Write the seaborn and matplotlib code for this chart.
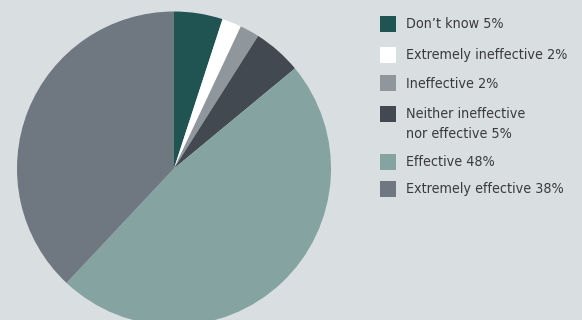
import matplotlib
matplotlib.use("Agg")
import matplotlib.pyplot as plt
import seaborn as sns
from matplotlib.patches import Rectangle

sns.set_theme(style="white")
plt.rcParams["font.family"] = ["DejaVu Sans"]

categories = ["Don\u2019t know", "Extremely ineffective", "Ineffective",
              "Neither ineffective\nnor effective", "Effective", "Extremely effective"]
shares = [5, 2, 2, 5, 48, 38]
colors = ["#1f5453", "#ffffff", "#8f979d", "#434950", "#85a3a0", "#6f7880"]

bg = "#d9dee1"
fig = plt.figure(figsize=(5.82, 3.20), dpi=100, facecolor=bg)
W, H = 582, 320

# pie: centre (174,168.5) px, radius 157 px (bottom runs past the edge)
cx, cy, r = 174, 168.5, 157
ax = fig.add_axes([(cx - r) / W, (H - cy - r) / H, 2 * r / W, 2 * r / H])
ax.set_facecolor(bg)
ax.pie(shares, colors=colors, startangle=90, counterclock=False,
       radius=1, wedgeprops=dict(linewidth=0))
ax.set_xlim(-1, 1)
ax.set_ylim(-1, 1)
ax.set_aspect("equal")
ax.axis("off")

# legend drawn as squares with labels
square_tops = [16, 47, 75, 106, 154, 181]
for cat, val, col, top in zip(categories, shares, colors, square_tops):
    fig.patches.append(Rectangle((380 / W, 1 - (top + 16) / H), 16 / W, 16 / H,
                                 transform=fig.transFigure, facecolor=col,
                                 edgecolor="none"))
    multi = "\n" in cat
    y = (top + 1) if multi else (top + 8.5)
    fig.text(406 / W, 1 - y / H, f"{cat} {val}%", ha="left",
             va="top" if multi else "center",
             fontsize=10.3, fontstretch="condensed", color="#3a3a3a",
             linespacing=1.5, transform=fig.transFigure)

fig.savefig("out.png", dpi=100, facecolor=bg)
